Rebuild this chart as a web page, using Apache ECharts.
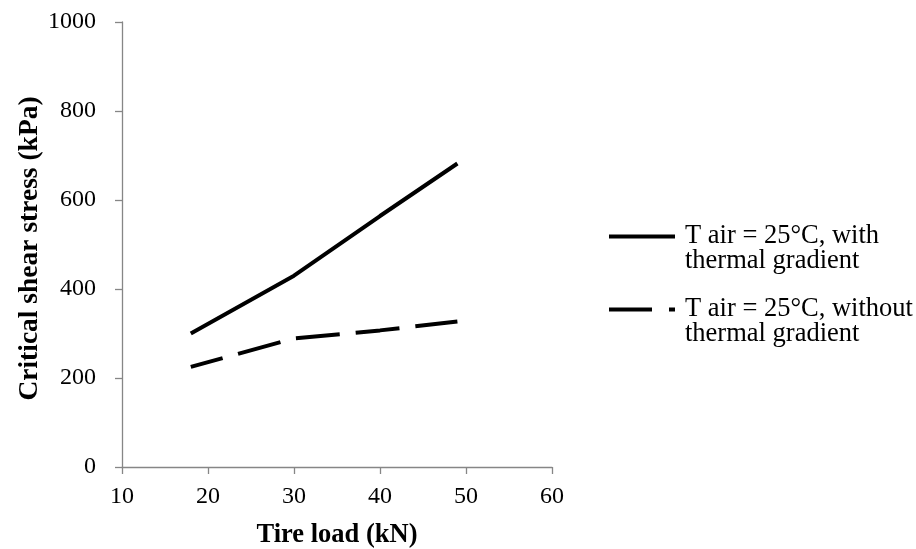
<!DOCTYPE html>
<html>
<head>
<meta charset="utf-8">
<script src="https://cdn.jsdelivr.net/npm/echarts@6/dist/echarts.min.js"></script>
<style>html,body{margin:0;padding:0;background:#fff}#c{width:916px;height:549px}</style>
</head>
<body>
<div id="c"></div>
<script>
var loads = [18, 30, 40, 49];
var withGradient = [300, 430, 564, 682];
var withoutGradient = [225, 289, 307, 327];
var seriesNames = ['T air = 25°C, with\nthermal gradient', 'T air = 25°C, without\nthermal gradient'];
var xTicks = {min: 10, max: 60, interval: 10};
var yTicks = {min: 0, max: 1000, interval: 200};

function pairs(xs, ys) { return xs.map(function (x, i) { return [x, ys[i]]; }); }

var font = 'Liberation Serif, Times New Roman, serif';
var axisColor = '#868686';
var chart = echarts.init(document.getElementById('c'), null, {renderer: 'canvas'});
chart.setOption({
  animation: false,
  backgroundColor: '#fff',
  grid: {left: 122, right: 364, top: 22, bottom: 82, containLabel: false, outerBoundsMode: 'none'},
  legend: {
    orient: 'vertical',
    left: 609,
    top: 198,
    padding: 0,
    itemGap: -4,
    itemWidth: 66,
    itemHeight: 4,
    data: [
      {name: seriesNames[0], icon: 'path://M0,0H66V4H0Z'},
      {name: seriesNames[1], icon: 'path://M0,0H43V4H0Z M60,0H66V4H60Z'}
    ],
    textStyle: {fontFamily: font, fontSize: 26.5, color: '#000', lineHeight: 25, padding: [0, 0, 0, 5]},
    formatter: function (n) { return '\n' + n; }
  },
  xAxis: {
    type: 'value',
    min: xTicks.min, max: xTicks.max, interval: xTicks.interval,
    name: 'Tire load (kN)',
    nameLocation: 'middle',
    nameGap: 55,
    nameTextStyle: {fontFamily: font, fontSize: 26.5, fontWeight: 'bold', color: '#000'},
    axisLine: {show: true, lineStyle: {color: axisColor, width: 1.3}},
    axisTick: {show: true, length: 7, lineStyle: {color: axisColor, width: 1.3}},
    axisLabel: {fontFamily: font, fontSize: 24, color: '#000', margin: 18},
    splitLine: {show: false}
  },
  yAxis: {
    type: 'value',
    min: yTicks.min, max: yTicks.max, interval: yTicks.interval,
    name: 'Critical shear stress (kPa)',
    nameLocation: 'middle',
    nameGap: 76,
    nameTextStyle: {fontFamily: font, fontSize: 27.5, fontWeight: 'bold', color: '#000', padding: [0, 8, 0, 0]},
    axisLine: {show: true, lineStyle: {color: axisColor, width: 1.3}},
    axisTick: {show: true, length: 7, lineStyle: {color: axisColor, width: 1.3}},
    axisLabel: {fontFamily: font, fontSize: 24, color: '#000', margin: 26, formatter: function (v) { return String(v); }},
    splitLine: {show: false}
  },
  series: [
    {
      name: seriesNames[0],
      type: 'line',
      data: pairs(loads, withGradient),
      symbol: 'none',
      showSymbol: false,
      lineStyle: {color: '#000', width: 4, type: 'solid'},
      itemStyle: {color: '#000'}
    },
    {
      name: seriesNames[1],
      type: 'line',
      data: pairs(loads, withoutGradient),
      symbol: 'none',
      showSymbol: false,
      lineStyle: {color: '#000', width: 4, type: [44, 16], dashOffset: 11},
      itemStyle: {color: '#000'}
    }
  ]
});
</script>
</body>
</html>
